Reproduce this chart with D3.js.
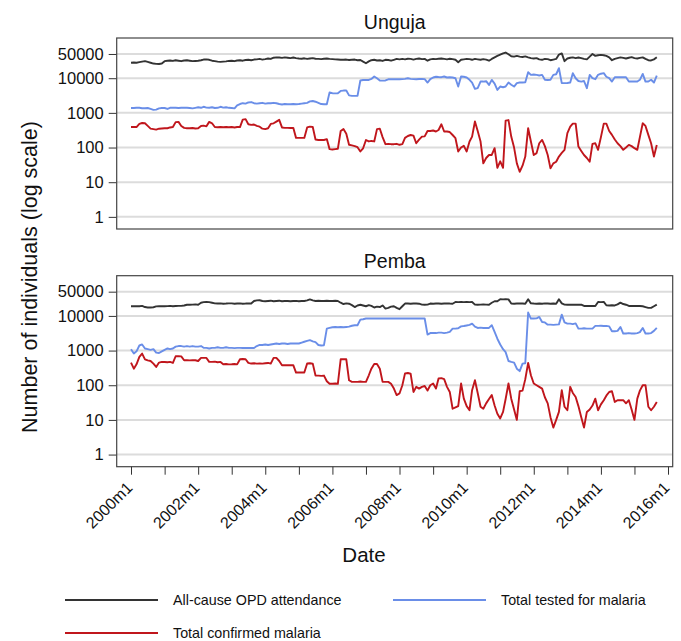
<!DOCTYPE html>
<html><head><meta charset="utf-8">
<script src="https://cdn.jsdelivr.net/npm/d3@7/dist/d3.min.js"></script>
<style>
html,body{margin:0;padding:0;background:#fff;}
svg{display:block;font-family:"Liberation Sans",Arial,sans-serif;}
</style></head>
<body>
<svg id="chart" width="681" height="641"></svg>
<script>
// ---- data (monthly, 2000m1 .. 2015m9) ----
const startYear = 2000;
const panels = ["Unguja", "Pemba"];
const seriesNames = ["All-cause OPD attendance", "Total tested for malaria", "Total confirmed malaria"];
const seriesColors = ["#333333", "#6a8ee8", "#c0161c"];
const yTickValues = [1, 10, 100, 1000, 10000, 50000];
const xMajorYears = [2000, 2002, 2004, 2006, 2008, 2010, 2012, 2014, 2016];
const xMinorYears = [2001, 2003, 2005, 2007, 2009, 2011, 2013, 2015];

const ungujaOPD = [
28000,28500,28000,29000,30000,31000,29500,28000,26500,26000,25800,26500,
31000,32000,32500,31500,33000,32000,31000,32500,33000,32000,31000,31500,
32000,33000,34500,35000,34000,32000,31000,30000,29500,30000,30500,31500,
32000,31000,32500,33000,32000,33500,34000,33000,34500,35000,36000,34500,
35500,37000,36000,39000,40000,39500,38500,40000,39000,38000,39500,38000,
37000,36500,37500,36000,37000,38000,36500,36000,35500,36500,37000,36000,
35500,35000,34500,34000,34000,34500,33500,34000,34500,33000,33500,30000,
27000,30500,33000,34000,32500,33000,31500,34000,33500,32000,34000,36000,
35000,36000,35000,36500,36000,34500,36000,37000,35500,36000,32000,35000,
36000,35500,36500,37000,36000,35000,36500,35500,34000,29000,34000,35000,
36000,35500,34000,36000,35000,34000,35500,34500,32000,36000,40000,44000,
48000,52000,55000,49000,43000,42000,44000,42000,41000,42500,40000,38000,
37000,38000,35000,34000,36000,35500,33000,34500,36000,48000,52000,31000,
37000,39000,40000,38000,39500,38000,36000,35000,42000,50000,44000,46000,
47000,46000,44000,40000,33000,36000,38000,40000,38500,37000,39000,40500,
38000,37000,38500,40000,36000,33000,32500,35000,40000];

const ungujaTested = [
1380,1380,1400,1400,1360,1360,1380,1300,1220,1240,1350,1380,
1380,1300,1400,1420,1400,1380,1400,1420,1400,1380,1350,1400,
1450,1400,1500,1420,1400,1450,1380,1400,1500,1420,1450,1400,
1380,1350,1650,1800,1900,1850,2000,2050,1900,1850,1900,1950,
1850,1900,1900,1950,1900,1800,1750,1800,1780,1780,1800,1780,
1800,1850,1900,1950,2150,2200,2100,1950,1800,1780,1780,3900,
3700,3650,3700,4300,4400,4400,3200,3100,3100,3100,8600,8900,
8900,8900,9500,11200,10000,8600,8500,8600,9300,9300,9400,9300,
9300,9400,9600,10000,9600,9400,9300,9500,9600,9400,7500,9400,
10500,11000,10800,10700,11200,10500,10700,10500,10000,5750,11200,11000,
10500,9000,7500,4930,5200,8000,8000,8200,6400,8950,7000,4600,
5750,5500,5750,7500,6500,5750,7200,7500,7500,7600,14900,12500,
12800,12500,12000,12500,9000,8900,9000,12500,13000,19400,7200,7200,
7300,7500,13900,10000,8300,8000,8300,5150,12500,10000,9350,12500,
13500,14000,11000,10000,8000,10700,10700,10700,10700,10700,8000,8000,
8000,8000,9000,13300,8000,8000,9000,7500,11900];

const ungujaConfirmed = [
390,390,390,480,510,500,420,350,340,330,350,355,
360,360,380,390,540,550,420,370,360,360,365,355,
360,420,430,410,550,500,390,385,390,385,390,385,
390,380,390,390,640,660,470,450,460,420,400,350,
340,360,480,500,560,630,380,370,370,365,370,190,
190,190,190,380,400,390,170,165,165,165,175,90,
88,90,92,300,340,250,120,115,110,102,77,95,
165,150,155,150,340,350,200,125,128,125,125,128,
120,125,190,215,230,220,133,170,207,210,300,300,
310,290,320,470,290,290,280,230,186,77,100,112,
77,150,207,562,300,149,35,50,61,61,96,26,
40,26,600,620,207,100,35,20,30,55,361,150,
61,69,133,166,110,61,25,35,39,55,70,86,
259,400,490,490,107,80,61,50,39,128,133,86,
200,490,490,300,232,170,133,110,86,100,119,110,
96,86,200,500,420,232,133,55,119];

const pembaOPD = [
19000,19000,19200,19000,19500,18000,17500,17500,17800,18800,19000,19000,
19000,19200,19500,19000,19300,19500,19500,20000,21000,21000,21200,21500,
21000,24000,25000,25300,25000,24000,23000,22700,23000,22500,22700,23000,
23000,22500,22800,23000,22500,22700,23000,22700,27000,28000,28300,27000,
26500,27000,27500,26500,27000,27500,26500,26800,27000,26500,27000,27200,
26500,27000,27000,28000,30000,28000,27000,27500,27000,27000,27500,27000,
27000,27500,27000,24000,22000,23000,22500,20500,18000,20000,21000,20000,
19000,20500,19500,17500,18500,18000,20000,16300,17000,18500,19000,17000,
15600,19000,22700,22700,22500,22700,22700,22500,21200,21000,21200,22700,
22500,22700,22700,22500,22700,23000,22700,22500,25300,25000,25300,25000,
25300,25000,25300,21200,21000,21200,21500,21200,21000,24000,26500,26500,
30300,30000,30300,30000,22700,22500,22700,23000,22700,22500,30300,23000,
22700,22500,22700,22500,23000,22700,22500,22700,22500,30300,23000,21200,
21000,21200,21000,21200,21000,21200,19400,19400,19500,19400,19400,25300,
25000,25300,20300,20000,20300,20000,21500,24200,22000,21000,19400,19500,
19400,19300,19400,19000,18000,17000,17000,19000,21200];

const pembaTested = [
1100,820,950,1400,1500,1150,1100,1050,1100,870,850,950,
1050,1150,1100,1150,1300,1350,1350,1300,1350,1300,1350,1300,
1300,1350,1200,1200,1150,1200,1200,1250,1200,1200,1250,1200,
1200,1180,1200,1200,1190,1200,1190,1200,1190,1350,1450,1450,
1500,1450,1500,1550,1600,1550,1600,1600,1550,1600,1600,1600,
1600,1700,1800,1900,2000,1850,1750,1450,1400,1430,4300,4500,
4700,4800,4700,4800,4700,4800,4900,5200,5380,5380,7800,8000,
8400,8400,8400,8400,8400,8400,8400,8400,8400,8400,8400,8400,
8400,8400,8400,8400,8400,8400,8400,8400,8400,8400,2900,3200,
3200,3200,3300,3300,3200,3300,3450,4300,4300,4400,5000,5100,
5300,5500,6000,4900,4500,4600,4500,4500,4500,5400,3450,2200,
1500,1100,900,500,470,450,300,255,420,430,12500,8400,
8400,8500,9350,6700,6500,5600,5600,5500,5600,5700,10900,6500,
6000,6000,5800,6100,4300,4300,4400,4300,4300,4300,5150,5150,
5200,5100,5150,5000,3600,3600,3700,4800,3100,3100,3200,3100,
3100,3200,3400,4500,3100,3100,3200,3700,4500];

const pembaConfirmed = [
450,300,400,660,820,560,520,500,420,338,451,471,
470,460,471,440,686,690,680,526,526,520,530,526,
500,614,614,614,471,471,480,460,471,403,410,400,
403,410,400,562,570,562,440,422,430,420,422,420,
430,440,420,614,614,500,377,377,380,377,380,232,
232,232,232,422,430,420,190,190,186,190,130,110,
110,112,110,562,562,560,139,125,125,125,128,125,
125,194,300,410,410,300,125,125,125,110,80,52,
58,100,220,225,215,64,90,80,90,95,70,100,
112,80,156,160,150,90,64,21,23,25,112,41,
25,19,72,139,60,24,21,30,40,52,26,15,
11,17,40,112,41,20,10,67,70,150,441,194,
112,100,90,80,45,30,12,6,10,17,72,24,
19,90,60,46,25,12,6,17,20,26,41,19,
28,37,50,64,67,33,37,37,37,30,37,20,
10,41,70,100,100,24,19,24,33];

const panelSeries = [
  [ungujaOPD, ungujaTested, ungujaConfirmed],
  [pembaOPD, pembaTested, pembaConfirmed]
];

// ---- layout ----
const svg = d3.select("#chart");
const frameX0 = 116.7, frameX1 = 672.7;
const panelTops = [38, 275.7];
const panelH = 191;

const monthDate = i => new Date(startYear, i, 1);
const x = d3.scaleTime()
  .domain([new Date(2000,0,1), new Date(2016,0,1)])
  .range([131, 668]);

panels.forEach((name, p) => {
  const top = panelTops[p], bottom = top + panelH;
  const y = d3.scaleLog().domain([Math.pow(10,-0.35), Math.pow(10,5.16)]).range([bottom, top]);
  const g = svg.append("g");

  // gridlines
  g.selectAll("line.grid").data(yTickValues).join("line")
    .attr("x1", frameX0).attr("x2", frameX1)
    .attr("y1", d => y(d)).attr("y2", d => y(d))
    .attr("stroke", "#dcdcdc").attr("stroke-width", 2);

  // y axis
  const yAxis = d3.axisLeft(y).tickValues(yTickValues).tickFormat(d3.format("d")).tickSize(8).tickPadding(5);
  const ya = g.append("g").attr("transform", `translate(${frameX0},0)`).call(yAxis);
  ya.select(".domain").remove();
  ya.selectAll(".tick line").attr("stroke", "#333");
  ya.selectAll(".tick text").attr("font-size", 16.5).attr("fill", "#111")
    .attr("font-family", "Liberation Sans, Arial, sans-serif");

  // lines
  const line = d3.line().x((d, i) => x(monthDate(i))).y(d => y(d));
  panelSeries[p].forEach((vals, s) => {
    g.append("path").datum(vals)
      .attr("d", line)
      .attr("fill", "none")
      .attr("stroke", seriesColors[s])
      .attr("stroke-width", 1.9)
      .attr("stroke-linejoin", "round");
  });

  // frame
  g.append("rect").attr("x", frameX0).attr("y", top)
    .attr("width", frameX1 - frameX0).attr("height", panelH)
    .attr("fill", "none").attr("stroke", "#444").attr("stroke-width", 1.2);

  // title
  g.append("text").attr("x", (frameX0 + frameX1) / 2).attr("y", p === 0 ? 29 : 268)
    .attr("text-anchor", "middle").attr("font-size", 19.5).attr("fill", "#111").text(name);

  if (p === 1) {
    const xa = g.append("g").attr("transform", `translate(0,${bottom})`);
    xa.call(d3.axisBottom(x).tickValues(xMinorYears.map(yy => new Date(yy,0,1))).tickSize(8).tickFormat(""));
    xa.call(g2 => g2.select(".domain").remove());
    const xb = g.append("g").attr("transform", `translate(0,${bottom})`);
    xb.call(d3.axisBottom(x).tickValues(xMajorYears.map(yy => new Date(yy,0,1))).tickSize(8)
      .tickFormat(d => d.getFullYear() + "m1"));
    xb.select(".domain").remove();
    g.selectAll(".tick line").attr("stroke", "#333");
    xb.selectAll(".tick text")
      .attr("font-size", 16).attr("fill", "#111")
      .attr("text-anchor", "end")
      .attr("font-family", "Liberation Sans, Arial, sans-serif")
      .attr("y", 0).attr("dy", 0)
      .attr("transform", "translate(2,22) rotate(-45)");
  }
});

// axis titles
svg.append("text").attr("transform", "translate(37,277) rotate(-90)")
  .attr("text-anchor", "middle").attr("font-size", 21.5).attr("fill", "#111")
  .text("Number of individuals (log scale)");
svg.append("text").attr("x", 364).attr("y", 562)
  .attr("text-anchor", "middle").attr("font-size", 20.5).attr("fill", "#111").text("Date");

// legend
const legendPos = [[65, 600], [393, 600], [65, 633]];
seriesNames.forEach((n, s) => {
  const [lx, ly] = legendPos[s];
  svg.append("line").attr("x1", lx).attr("x2", lx + 93).attr("y1", ly).attr("y2", ly)
    .attr("stroke", seriesColors[s]).attr("stroke-width", 1.9);
  svg.append("text").attr("x", lx + 108).attr("y", ly + 5)
    .attr("font-size", 14.3).attr("fill", "#111").text(n);
});
</script>
</body></html>
